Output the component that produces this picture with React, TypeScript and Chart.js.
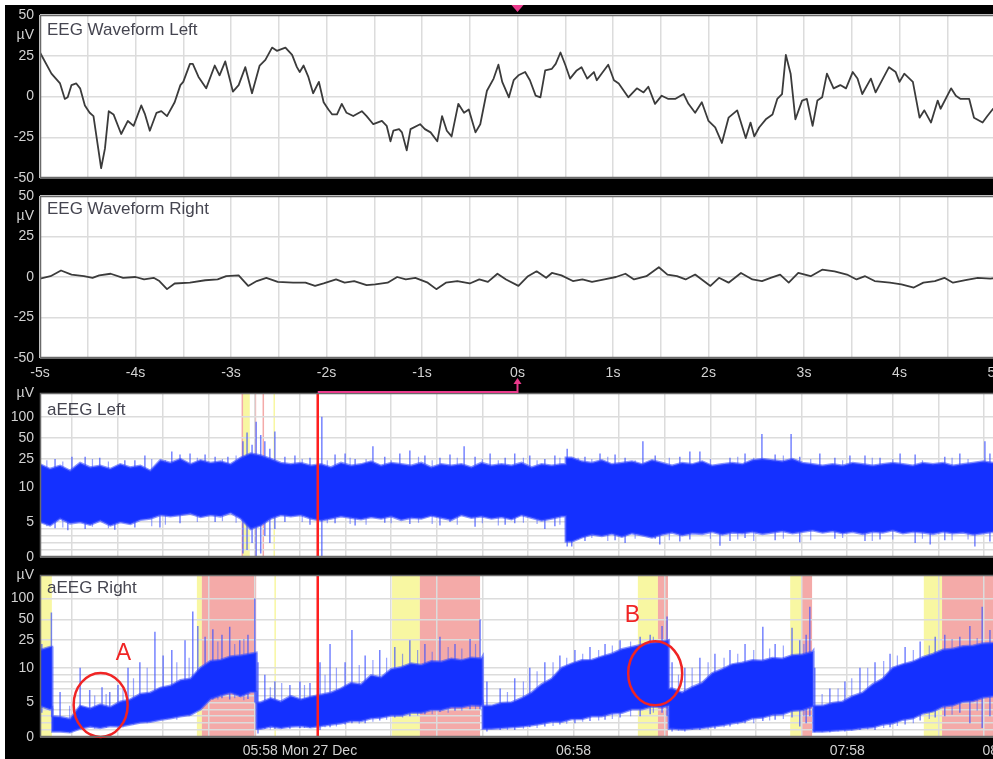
import React, { useEffect, useRef } from 'react';
import { Chart, registerables } from 'chart.js';

Chart.register(...registerables);

// ---------------- EEG waveform panels (time in s, amplitude in µV) ----------------
const eegLeftTimes = [
  -5.0, -4.88, -4.79, -4.74, -4.71, -4.67, -4.62, -4.58, -4.53, -4.48,
  -4.44, -4.39, -4.36, -4.32, -4.28, -4.23, -4.15, -4.08, -4.02, -3.94,
  -3.9, -3.85, -3.78, -3.73, -3.67, -3.59, -3.53, -3.5, -3.43, -3.4,
  -3.34, -3.26, -3.17, -3.12, -3.06, -2.98, -2.92, -2.85, -2.78, -2.7,
  -2.64, -2.57, -2.52, -2.43, -2.36, -2.31, -2.28, -2.24, -2.19, -2.14,
  -2.08, -2.03, -1.98, -1.94, -1.89, -1.84, -1.79, -1.72, -1.63, -1.58,
  -1.51, -1.42, -1.37, -1.33, -1.3, -1.24, -1.21, -1.16, -1.12, -1.02,
  -0.97, -0.91, -0.84, -0.79, -0.74, -0.69, -0.62, -0.56, -0.51, -0.44,
  -0.39, -0.32, -0.25, -0.2, -0.16, -0.09, -0.04, 0.01,
  0.08, 0.13, 0.19, 0.24, 0.29, 0.36, 0.4, 0.45, 0.5, 0.55,
  0.62, 0.67, 0.73, 0.8, 0.83, 0.88, 0.95, 1.01, 1.06, 1.16,
  1.25, 1.32, 1.37, 1.44, 1.51, 1.58, 1.65, 1.74, 1.79, 1.86,
  1.93, 2.0, 2.07, 2.14, 2.21, 2.3, 2.39, 2.44, 2.48, 2.53,
  2.6, 2.67, 2.72, 2.77, 2.81, 2.86, 2.91, 2.98, 3.03, 3.09,
  3.14, 3.19, 3.24, 3.31, 3.38, 3.44, 3.51, 3.56, 3.61, 3.7,
  3.75, 3.89, 3.96, 4.0, 4.05, 4.14, 4.21, 4.26, 4.33, 4.4,
  4.43, 4.54, 4.59, 4.64, 4.73, 4.78, 4.87, 4.92, 4.98, 5.1,
];
const eegLeftValues = [
  27, 14, 8, -1.5, -0.5, 7, 8, 5, -5.5, -10,
  -12, -32, -44, -32, -9, -11, -23, -15, -18, -5.5,
  -11, -21, -10, -9, -12, -3.5, 7, 9, 20, 20,
  12, 5, 19, 13, 21.5, 3, 7, 18, 2, 19,
  22.5, 30, 28, 30, 25.5, 18, 15, 19, 12, 2,
  9, -3.5, -8, -11, -11, -4.5, -10, -12, -9, -12,
  -17, -15, -18, -27.5, -21, -20, -22, -33, -20, -17,
  -20, -22, -27.5, -12, -21, -24.5, -4.5, -10, -8, -22,
  -17, 3.5, 11, 19.5, 9, -0.5, 10, 13,
  15, 10, 0.5, -0.5, 16, 17, 20, 27, 19.5, 11,
  16, 18, 11, 15, 10, 14, 19.5, 10, 8, -0.5,
  5, 2.5, 6, -4.5, 0.5, -1.5, -1.5, 1.5, -4.5, -10,
  -3.5, -15, -19, -28.5, -13, -8.5, -25.5, -16, -24.5, -19,
  -14, -11, -1.5, 1.5, 25.5, 14, -14, -2.5, -1.5, -18,
  -2.5, -0.5, 14, 5, 7, 5, 15, 11, 1.5, 11,
  2.5, 18, 15, 9, 14, 9, -13, -8.5, -16, -2.5,
  -7.5, 5, 0.5, -1.5, -1.5, -13, -16, -12, -7.5, -5,
];
const eegRightTimes = [
  -5.0, -4.89, -4.78, -4.67, -4.54, -4.45, -4.38, -4.26, -4.13, -4.0,
  -3.91, -3.81, -3.75, -3.67, -3.59, -3.43, -3.27, -3.14, -3.05, -2.92,
  -2.82, -2.73, -2.63, -2.51, -2.35, -2.22, -2.12, -2.03, -1.9, -1.81,
  -1.71, -1.58, -1.49, -1.36, -1.26, -1.17, -1.07, -0.94, -0.85, -0.75,
  -0.63, -0.5, -0.4, -0.31, -0.21, -0.12, 0.01, 0.11, 0.2, 0.3,
  0.36, 0.46, 0.58, 0.68, 0.78, 0.91, 1.03, 1.13, 1.22, 1.35,
  1.48, 1.57, 1.67, 1.76, 1.86, 2.02, 2.11, 2.21, 2.34, 2.46,
  2.56, 2.65, 2.75, 2.84, 2.94, 3.07, 3.19, 3.32, 3.45, 3.55,
  3.64, 3.74, 3.9, 4.02, 4.15, 4.25, 4.37, 4.47, 4.56, 4.69,
  4.82, 4.95, 5.1,
];
const eegRightValues = [
  -1, 0.5, 4, 1.5, 0.5, -0.5, 1, 2, -0.5, 0,
  -1.5, -0.5, -2.5, -7.5, -4, -3.5, -2, -1.5, 0.5, 1,
  -5.5, -2.5, -0.5, -3, -3.5, -3.5, -5.5, -4, -1.5, -3.5,
  -2.5, -5, -4.5, -3.5, 0, -1.5, -0.5, -3.5, -7.5, -3.5,
  -2.5, -4, -1.5, -3, 2, -1.5, -5.5, 0.5, 3.5, -0.5,
  2.5, 1, -2.5, -1.5, -3, -1.5, 0, 2, -1.5, 0.5,
  6, 1.5, 0.5, -1.5, 1.5, -5.5, -0.5, -3.5, 2.5, -1.5,
  -2.5, -0.5, 1.5, -3.5, 2.5, 0.5, 4.5, 3.5, 1.5, -1.5,
  0.5, -2.5, -3.5, -4.5, -6.5, -3.5, -2.5, -0.5, -3.5, -2,
  -0.5, -1, 0,
];
const eegYTicks = [-50, -25, 0, 25, 50];
const eegUnitAt = 37.5;
const eegXTicks = [-5, -4.5, -4, -3.5, -3, -2.5, -2, -1.5, -1, -0.5, 0, 0.5, 1, 1.5, 2, 2.5, 3, 3.5, 4, 4.5, 5];
const eegXMin = -5;
const eegXMax = 5.157;

// ---------------- aEEG panels (time in minutes after 05:58, amplitude in µV) ----------------
const aeegStart = -57;
const aeegStep = 2.2;
const aeegXMin = -57;
const aeegXMax = 155.7;

const aeegLeftUpper = [
  21, 18, 20, 17, 22, 19, 20, 18, 21, 19,
  20, 17, 24, 22, 25, 21, 24, 22, 23, 21,
  26, 30, 28, 25, 22, 21, 22, 20, 21, 19,
  22, 20, 21, 23, 20, 22, 21, 20, 22, 19,
  21, 20, 21, 19, 22, 20, 21, 20, 22, 19,
  21, 20, 21, 26, 23, 22, 24, 21, 22, 23,
  21, 24, 22, 20, 22, 21, 23, 20, 21, 22,
  21, 24, 25, 24, 23, 25, 22, 21, 20, 21,
  20, 22, 21, 20, 21, 22, 21, 20, 22, 21,
  22, 20, 21, 22, 23, 22, 21,
];
const aeegLeftLower = [
  5, 4.5, 5.5, 4.8, 5, 4.6, 5.2, 4.5, 5, 4.7,
  5.3, 5.5, 6, 5.8, 6, 6.2, 5.7, 6, 5.8, 6.3,
  5.5, 4, 4.5, 5.5, 6, 5.8, 6, 5.5, 5.2, 5.5,
  5.8, 5.6, 5.4, 5.7, 5.5, 5.8, 5.3, 5.6, 5.5, 5.9,
  5.6, 5.3, 6, 5.6, 5.8, 5.5, 5.7, 5.4, 6, 5.6,
  5.2, 5.5, 5.8, 2.2, 2.8, 3.2, 3, 3.3, 2.9, 3.4,
  3.1, 2.8, 3.2, 3.5, 3.1, 3.4, 3.3, 3.6, 3.2, 3.5,
  3.4, 3.6, 3.3, 3.5, 3.7, 3.4, 3.6, 3.8, 3.5, 3.7,
  3.4, 3.6, 3.3, 3.6, 3.5, 3.8, 3.4, 3.6, 3.5, 3.3,
  3.6, 3.4, 3.5, 3.2, 3.4, 3.6, 3.5,
];
const aeegRightUpper = [
  18, 20, 2.9, 2.6, 4.5, 4.1, 4.7, 4.3, 5.1, 5.4,
  6.2, 6.4, 7.1, 7.4, 8.2, 8.4, 10, 12.5, 13, 14.5,
  15, 16, 5, 5.6, 5.1, 5.9, 5.4, 5.8, 6.1, 6.4,
  7, 7.8, 7.6, 8.9, 8.6, 9.8, 10.2, 11.5, 11, 12.4,
  12.2, 13.5, 12.8, 14, 13.6, 4.5, 4.9, 5, 5.6, 6.4,
  7.6, 8.4, 10, 11.5, 12.8, 13, 14.5, 16, 18.5, 20,
  21.5, 23, 24, 7, 6.4, 7.2, 7.8, 9.2, 9.8, 11.2,
  11.8, 12.8, 12.6, 13.8, 13.5, 15.2, 15.6, 17, 4.5, 4.9,
  5.1, 5.9, 6.4, 7.6, 8.4, 10, 11.2, 12.2, 14.2, 15.8,
  18.2, 18.8, 20.5, 20.8, 22.5, 22.8, 23,
];
const aeegRightLower = [
  4.5, 4, 0.8, 0.7, 1.2, 1.5, 1.3, 1.6, 1.5, 1.8,
  2.1, 2.2, 2.5, 2.7, 3, 3.2, 4, 5.5, 6, 6.4,
  5.9, 6.5, 1.2, 1.5, 1.3, 1.5, 1.6, 1.4, 1.6, 1.8,
  2, 2.3, 2.3, 2.7, 2.8, 3.1, 3.1, 3.5, 3.5, 3.9,
  3.9, 4.3, 4.3, 4.6, 4.5, 1.2, 1.3, 1.4, 1.5, 1.7,
  1.9, 2.2, 2.2, 2.6, 2.6, 3, 3, 3.4, 3.5, 4,
  4, 4.4, 4.3, 1.2, 1.1, 1.2, 1.3, 1.5, 1.7, 2,
  2.2, 2.7, 2.8, 3.2, 3.3, 3.8, 3.9, 4.4, 0.8, 0.9,
  1, 1.1, 1.3, 1.4, 1.8, 2, 2.5, 2.7, 3.4, 3.7,
  4.4, 4.6, 5.1, 5.2, 5.7, 5.9, 6.1,
];

// abrupt level changes of the band (minutes, µV before / after)
const leftBreakTimes = [58.3];
const leftBreakUpperBefore = [21];
const leftBreakLowerBefore = [5.8];
const leftBreakUpperAfter = [26];
const leftBreakLowerAfter = [2.2];
const rightBreakTimes = [-54.3, -9.5, 40.1, 80.9, 112.6];
const rightBreakUpperBefore = [20, 16.5, 14.5, 25, 17.5];
const rightBreakLowerBefore = [4.2, 6.5, 4.8, 4.5, 4.4];
const rightBreakUpperAfter = [3, 5, 4.5, 7, 4.5];
const rightBreakLowerAfter = [0.8, 1.2, 1.2, 1.2, 0.8];

// large single excursions (minutes, low µV, high µV)
const leftSpikeTimes = [
  -53.7, -50.9, -50.0, -47.1, -43.9, -40.6, -38.4, -36.2, -34.0, -30.7,
  -28.1, -26.3, -24.1, -20.8, -18.6, -15.8, -12.5, -11.6, -10.5, -9.6,
  -8.6, -7.7, -6.6, -5.5, -3.3, -1.1, 2.2, 4.8, 7.7, 9.9,
  12.1, 16.0, 18.6, 21.9, 24.1, 27.4, 30.7, 32.9, 36.0, 38.4,
  41.7, 45.0, 47.1, 50.4, 53.7, 55.9, 58.6, 59.6, 62.5, 65.8,
  69.1, 71.3, 75.2, 77.9, 78.9, 83.3, 85.5, 87.7, 92.1, 94.3,
  97.6, 101.3, 104.2, 107.7, 109.6, 114.0, 117.3, 120.6, 123.9, 127.2,
  131.6, 134.9, 138.2, 141.4, 144.7, 148.0, 150.2, 151.3,
];
const leftSpikeLow = [
  4.1, 3.8, 10, 4.0, 10, 3.9, 10, 4.2, 10, 4.2,
  10, 4.8, 10, 10, 5.0, 10, 0.5, 1, 2, 0,
  0.5, 3, 2, 4, 5.0, 10, 4.6, 0, 4.8, 10,
  4.5, 10, 4.9, 10, 4.7, 10, 4.5, 5.0, 10, 4.3,
  10, 4.6, 4.8, 10, 4.0, 4.4, 1.5, 1.5, 2.3, 10,
  2.4, 2.0, 10, 2.6, 1.8, 2.2, 2.5, 10, 1.6, 2.3,
  2.7, 10, 2.4, 10, 2.1, 10, 2.6, 10, 2.3, 2.5,
  10, 2.0, 1.8, 2.4, 10, 1.5, 10, 2.2,
];
const leftSpikeHigh = [
  25, 10, 27, 27, 26, 10, 24, 24, 28, 10,
  32, 29, 30, 29, 27, 27, 45, 60, 40, 85,
  55, 45, 35, 62, 27, 28, 26, 100, 29, 30,
  25, 38, 27, 30, 33, 28, 26, 29, 38, 27,
  30, 26, 30, 28, 25, 28, 35, 15, 27, 30,
  29, 26, 45, 28, 10, 27, 32, 32, 10, 26,
  30, 57, 29, 57, 27, 30, 26, 28, 28, 26,
  30, 29, 10, 27, 30, 10, 45, 30,
];
const rightSpikeTimes = [
  -56.6, -54.5, -52.6, -48.2, -46.1, -43.4, -41.7, -39.9, -37.7, -35.1,
  -31.8, -30.0, -28.1, -25.2, -23.5, -22.4, -20.8, -19.1, -17.1, -15.4,
  -13.2, -11.4, -9.9, -9.2, -7.7, -5.5, -2.2, 0, 2.2, 4.4,
  6.6, 9.9, 11.4, 14.3, 17.5, 20.8, 24.1, 27.4, 30.7, 34.0,
  37.3, 39.5, 41.0, 43.9, 47.1, 50.4, 53.7, 57.0, 60.3, 63.6,
  66.9, 70.2, 74.6, 76.8, 79.4, 80.5, 81.6, 84.4, 87.7, 91.0,
  94.3, 97.6, 101.5, 104.2, 107.9, 109.6, 111.0, 111.8, 112.9, 116.2,
  119.5, 122.8, 126.1, 129.4, 132.7, 136.0, 139.3, 141.4, 144.7, 146.9,
  149.6, 151.3,
];
const rightSpikeLow = [
  3.5, 4, 1, 2, 2, 2, 2, 2, 3, 3,
  3, 3, 4, 4, 4, 4, 5.5, 5.4, 5.6, 5.4,
  5.8, 5.5, 5, 0.5, 1.2, 1.2, 1.2, 1.3, 1.3, 1,
  1.4, 1.8, 2, 2, 2.4, 2.8, 3, 3.3, 3.6, 3.8,
  4, 4, 0.8, 1, 1, 1.4, 1.5, 1.8, 2, 2.3,
  2.5, 2.8, 3, 3.3, 3.5, 3, 0.8, 0.8, 1, 1.2,
  1.5, 2, 2.3, 2.5, 2.8, 1.5, 2, 3, 0.7, 0.7,
  0.8, 1, 1, 1.4, 1.8, 2.4, 2.8, 3, 3.5, 2,
  1.3, 3,
];
const rightSpikeHigh = [
  22, 63, 6.5, 10, 6.8, 7.2, 6.5, 7.5, 10, 12,
  33, 15, 18, 25, 65, 40, 28, 36, 30, 39,
  25, 30, 100, 12, 9, 8, 7.5, 8, 7.8, 12,
  22, 12, 35, 15, 18, 20, 25, 22, 28, 22,
  26, 50, 8, 7, 8.5, 10, 12, 15, 18, 20,
  22, 25, 28, 30, 40, 55, 12, 10, 14, 16,
  18, 22, 39, 22, 38, 25, 30, 76, 10, 7,
  8, 10, 12, 16, 20, 24, 28, 30, 28, 40,
  76, 35,
];

// small fringe excursions along the band edges (minutes, low µV, high µV)
const leftFringeTimes = [
  -55.5, -52.0, -45.5, -42.0, -32.5, -29.5, -22.5, -17.0, -14.0, 0.5,
  6.0, 11.0, 14.5, 20.0, 26.0, 29.0, 34.5, 40.0, 43.5, 49.0,
  52.0, 57.0, 61.0, 64.0, 67.5, 73.5, 81.0, 90.0, 96.0, 99.5,
  106.0, 112.0, 119.0, 125.5, 130.0, 136.5, 143.0, 146.5,
];
const leftFringeLow = [
  4.4, 4.2, 4.3, 4.1, 4.4, 4.6, 5.0, 5.1, 4.9, 5.0,
  4.8, 4.7, 4.6, 4.8, 4.9, 4.7, 4.6, 4.8, 4.5, 4.9,
  4.7, 4.6, 2.5, 2.7, 2.3, 2.6, 2.4, 2.6, 2.5, 2.3,
  2.6, 2.4, 2.7, 2.3, 2.5, 2.6, 2.4, 2.5,
];
const leftFringeHigh = [
  24, 23, 25, 23, 25, 24, 26, 25, 28, 25,
  24, 26, 25, 24, 27, 24, 26, 25, 24, 26,
  24, 26, 26, 25, 27, 24, 26, 25, 27, 26,
  28, 25, 24, 26, 25, 24, 26, 25,
];
const rightFringeTimes = [
  -50.5, -45.0, -42.5, -38.8, -36.5, -33.5, -27.0, -24.3, -18.0, -14.3,
  -12.3, -6.5, -4.0, 1.0, 5.5, 8.0, 13.0, 16.0, 19.0, 22.5,
  25.8, 29.0, 32.5, 35.5, 38.5, 45.5, 49.0, 52.0, 55.5, 58.5,
  62.0, 65.5, 68.5, 72.5, 77.5, 83.0, 86.0, 89.5, 93.0, 96.0,
  99.5, 103.0, 106.0, 110.5, 114.5, 118.0, 121.0, 124.5, 128.0, 131.0,
  134.5, 138.0, 143.0, 148.5, 153.0,
];
const rightFringeLow = [
  0.6, 1.2, 1.3, 1.4, 1.8, 2.0, 2.5, 3.0, 5.4, 5.6,
  5.3, 1.1, 1.2, 1.3, 1.4, 1.5, 1.9, 2.2, 2.5, 2.8,
  3.1, 3.3, 3.5, 3.8, 4.0, 1.0, 1.2, 1.3, 1.6, 1.9,
  2.2, 2.4, 2.6, 3.0, 3.5, 0.9, 1.0, 1.1, 1.4, 1.8,
  2.0, 2.4, 2.6, 3.0, 0.7, 0.8, 0.9, 1.1, 1.3, 1.6,
  2.0, 2.6, 3.2, 3.8, 4.0,
];
const rightFringeHigh = [
  4.5, 6.0, 6.2, 7.0, 8.5, 10, 12, 14, 24, 22,
  26, 7.2, 7.8, 7.5, 9, 10, 11, 13, 14, 16,
  18, 17, 20, 19, 22, 6.5, 8, 9.5, 12, 14,
  16, 18, 21, 24, 28, 9, 10, 12, 14, 16,
  18, 19, 21, 22, 6.2, 7, 8.5, 10, 12.5, 15,
  18, 21, 26, 27, 29,
];

// event shading (minutes from / to)
const leftYellowSpans = [[-12.5, -11.0], [-5.8, -5.5]];
const leftPinkSpans = [[-12.8, -12.5], [-10.0, -9.6], [-8.2, -7.9]];
const rightYellowSpans = [[-57.0, -54.4], [-22.6, -21.5], [-5.6, -5.3], [20.2, 26.3], [74.1, 78.5], [107.5, 110.1], [136.8, 140.8]];
const rightPinkSpans = [[-21.5, -9.6], [26.3, 39.5], [78.5, 80.7], [110.1, 112.3], [140.8, 156.0]];

const cursorMinutes = 3.9;

const aeegLabelledValues = [0, 5, 10, 25, 50, 100];
const aeegGridValues = [1, 2, 3, 4, 6, 7, 8, 9];
const aeegMaxT = 2.34;
const aeegGridMinutes = [-50, -40, -30, -20, -10, 0, 10, 20, 30, 40, 50, 60, 70, 80, 90, 100, 110, 120, 130, 140, 150];
const aeegTimeTicks = [0, 60, 120, 153.5];
const aeegTimeLabels = ['05:58 Mon 27 Dec', '06:58', '07:58', '08:31'];

// annotations in aEEG Right
const annotLabels = ['A', 'B'];
const annotCircleTimes = [-43.7, 77.9];
const annotCircleValues = [4.64, 9.2];
const annotTextTimes = [-38.7, 72.9];
const annotTextValues = [15.9, 55.7];

// ---------------- styling ----------------
const FONT = "Arial, 'Liberation Sans', Helvetica, sans-serif";
const TICK = '#d2d2d2';
const GRID = '#dcdcdc';
const BAND = '#1430ff';
const BAND_EDGE = 'rgba(55,75,255,0.6)';
const SPIKE = 'rgba(60,80,255,0.7)';
const FRINGE = 'rgba(70,90,255,0.55)';
const YELLOW = '#f8f7a2';
const PINK = '#f4aaa8';
const MAGENTA = '#ea3a8c';

// semi-log aEEG transform: linear 0-10 µV, log 10-100+ µV
const tf = (v: number) => (v <= 10 ? v / 10 : 1 + Math.log10(v / 10));

function panelPlugin(title: string, titleDy: number, shades: any[] | null, opts: any) {
  return {
    id: 'panel',
    beforeDraw(c: any) {
      const { ctx, chartArea: a } = c;
      ctx.save();
      ctx.fillStyle = '#fff';
      ctx.fillRect(a.left, a.top, a.right - a.left, a.bottom - a.top);
      if (shades) {
        const xs = c.scales.x;
        shades.forEach((s: any) => {
          s.spans.forEach((sp: number[]) => {
            const x1 = Math.max(a.left, xs.getPixelForValue(sp[0]));
            const x2 = Math.min(a.right, xs.getPixelForValue(sp[1]));
            ctx.fillStyle = s.color;
            ctx.fillRect(x1, a.top, Math.max(1.5, x2 - x1), a.bottom - a.top);
          });
        });
      }
      ctx.restore();
    },
    afterDatasetsDraw(c: any) {
      if (opts.afterData) opts.afterData(c);
    },
    afterDraw(c: any) {
      const { ctx, chartArea: a } = c;
      ctx.save();
      ctx.strokeStyle = '#6a6a6a';
      ctx.lineWidth = 1.5;
      ctx.strokeRect(a.left + 0.5, a.top + 0.5, a.right - a.left - 1, a.bottom - a.top - 1);
      ctx.fillStyle = '#454550';
      ctx.font = `17px ${FONT}`;
      ctx.textAlign = 'left';
      ctx.textBaseline = 'alphabetic';
      ctx.fillText(title, a.left + 7, a.top + titleDy);
      ctx.restore();
      if (opts.afterAll) opts.afterAll(c);
    },
  };
}

function eegChart(canvas: HTMLCanvasElement, times: number[], values: number[], title: string, titleDy: number,
  showX: boolean, padTop: number, padBottom: number, xHeight: number, opts: any) {
  return new Chart(canvas, {
    type: 'line',
    data: {
      datasets: [{
        data: times.map((t, i) => ({ x: t, y: values[i] })),
        borderColor: '#3b3b3b', borderWidth: 1.8, pointRadius: 0, tension: 0, fill: false,
        borderJoinStyle: 'round',
      }],
    },
    options: {
      animation: false, responsive: false, devicePixelRatio: 1, events: [],
      layout: { padding: { top: padTop, bottom: padBottom, left: 0, right: 0 } },
      plugins: { legend: { display: false }, tooltip: { enabled: false }, title: { display: false } },
      scales: {
        x: {
          type: 'linear', min: eegXMin, max: eegXMax,
          afterBuildTicks: (s: any) => { s.ticks = eegXTicks.map((v) => ({ value: v })); },
          afterFit: (s: any) => { s.height = xHeight; s.paddingLeft = 0; s.paddingRight = 0; },
          grid: { color: GRID, lineWidth: 1.5, drawTicks: false },
          border: { display: false },
          ticks: {
            display: showX, autoSkip: false, maxRotation: 0, minRotation: 0, padding: 7, color: TICK,
            font: { family: FONT, size: 14 },
            callback: (v: any) => (Number.isInteger(v) ? `${v}s` : ''),
          },
        },
        y: {
          type: 'linear', min: -50, max: 50,
          afterBuildTicks: (s: any) => {
            s.ticks = [...eegYTicks, eegUnitAt].sort((p, q) => p - q).map((v) => ({ value: v }));
          },
          afterFit: (s: any) => { s.width = 35; s.paddingTop = 0; s.paddingBottom = 0; },
          grid: {
            color: (ctx: any) => (ctx.tick && ctx.tick.value === eegUnitAt ? 'rgba(0,0,0,0)' : GRID),
            lineWidth: 1.5, drawTicks: false,
          },
          border: { display: false },
          ticks: {
            autoSkip: false, padding: 6, color: TICK, font: { family: FONT, size: 14 },
            callback: (v: any) => (v === eegUnitAt ? 'µV' : String(v)),
          },
        },
      },
    } as any,
    plugins: [panelPlugin(title, titleDy, null, opts)],
  } as any);
}

function bandPoints(upper: number[], lower: number[], bt: number[], ub: number[], lb: number[], ua: number[], la: number[]) {
  const pts = upper.map((u, i) => ({ t: aeegStart + i * aeegStep, u, l: lower[i] }));
  bt.forEach((t, i) => {
    pts.push({ t: t - 0.05, u: ub[i], l: lb[i] });
    pts.push({ t, u: ua[i], l: la[i] });
  });
  pts.sort((p, q) => p.t - q.t);
  return pts;
}

function segments(st: number[], sl: number[], sh: number[]) {
  const out: any[] = [];
  st.forEach((t, i) => {
    out.push({ x: t, y: tf(sl[i]) });
    out.push({ x: t, y: tf(sh[i]) });
    out.push({ x: t, y: null });
  });
  return out;
}

function aeegChart(canvas: HTMLCanvasElement, pts: any[], spikes: any[], fringe: any[], shades: any[],
  title: string, titleDy: number, showX: boolean, padTop: number, padBottom: number, xHeight: number, opts: any) {
  const xTicks = [...aeegGridMinutes, ...aeegTimeTicks.filter((t) => aeegGridMinutes.indexOf(t) < 0)].sort((p, q) => p - q);
  const yTicks = [...aeegLabelledValues, ...aeegGridValues].map(tf).concat([aeegMaxT]).sort((p, q) => p - q);
  return new Chart(canvas, {
    type: 'line',
    data: {
      datasets: [
        { data: pts.map((p) => ({ x: p.t, y: tf(p.l) })), borderColor: BAND_EDGE, borderWidth: 2.5, pointRadius: 0, tension: 0, fill: false },
        { data: pts.map((p) => ({ x: p.t, y: tf(p.u) })), borderColor: BAND_EDGE, backgroundColor: BAND, borderWidth: 2.5, pointRadius: 0, tension: 0, fill: '-1' },
        { data: spikes, borderColor: SPIKE, borderWidth: 1.5, pointRadius: 0, tension: 0, fill: false, spanGaps: false },
        { data: fringe, borderColor: FRINGE, borderWidth: 1.2, pointRadius: 0, tension: 0, fill: false, spanGaps: false },
      ],
    },
    options: {
      animation: false, responsive: false, devicePixelRatio: 1, events: [],
      layout: { padding: { top: padTop, bottom: padBottom, left: 0, right: 0 } },
      plugins: { legend: { display: false }, tooltip: { enabled: false }, title: { display: false } },
      scales: {
        x: {
          type: 'linear', min: aeegXMin, max: aeegXMax,
          afterBuildTicks: (s: any) => { s.ticks = xTicks.map((v) => ({ value: v })); },
          afterFit: (s: any) => { s.height = xHeight; s.paddingLeft = 0; s.paddingRight = 0; },
          grid: {
            color: (ctx: any) => (ctx.tick && aeegGridMinutes.indexOf(ctx.tick.value) < 0 ? 'rgba(0,0,0,0)' : GRID),
            lineWidth: 1.5, drawTicks: false,
          },
          border: { display: false },
          ticks: {
            display: showX, autoSkip: false, maxRotation: 0, minRotation: 0, padding: 6, color: TICK,
            font: { family: FONT, size: 14 },
            callback: (v: any) => {
              const i = aeegTimeTicks.indexOf(v);
              return i >= 0 ? aeegTimeLabels[i] : '';
            },
          },
        },
        y: {
          type: 'linear', min: 0, max: aeegMaxT,
          afterBuildTicks: (s: any) => { s.ticks = yTicks.map((v) => ({ value: v })); },
          afterFit: (s: any) => { s.width = 35; s.paddingTop = 0; s.paddingBottom = 0; },
          grid: {
            color: (ctx: any) => (ctx.tick && Math.abs(ctx.tick.value - aeegMaxT) < 1e-6 ? 'rgba(0,0,0,0)' : GRID),
            lineWidth: 1.5, drawTicks: false,
          },
          border: { display: false },
          ticks: {
            autoSkip: false, padding: 6, color: TICK, font: { family: FONT, size: 14 },
            callback: (v: any) => {
              if (Math.abs(v - aeegMaxT) < 1e-6) return 'µV';
              const i = aeegLabelledValues.findIndex((u) => Math.abs(tf(u) - v) < 1e-6);
              return i >= 0 ? String(aeegLabelledValues[i]) : '';
            },
          },
        },
      },
    } as any,
    plugins: [panelPlugin(title, titleDy, shades, opts)],
  } as any);
}

function drawCursor(c: any) {
  const { ctx, chartArea: a } = c;
  const x = c.scales.x.getPixelForValue(cursorMinutes);
  ctx.save();
  ctx.strokeStyle = '#ff1f1f';
  ctx.lineWidth = 2.5;
  ctx.beginPath();
  ctx.moveTo(x, a.top);
  ctx.lineTo(x, a.bottom);
  ctx.stroke();
  ctx.restore();
}

export default function App() {
  const r1 = useRef<HTMLCanvasElement>(null);
  const r2 = useRef<HTMLCanvasElement>(null);
  const r3 = useRef<HTMLCanvasElement>(null);
  const r4 = useRef<HTMLCanvasElement>(null);

  useEffect(() => {
    const shared = { zeroPx: 0 };

    const c1 = eegChart(r1.current!, eegLeftTimes, eegLeftValues, 'EEG Waveform Left', 20, false, 10, 9, 0, {
      afterAll: (c: any) => {
        const x0 = c.scales.x.getPixelForValue(0);
        const { ctx } = c;
        ctx.save();
        ctx.fillStyle = MAGENTA;
        ctx.beginPath();
        ctx.moveTo(x0 - 6, 0);
        ctx.lineTo(x0 + 6, 0);
        ctx.lineTo(x0, 7);
        ctx.closePath();
        ctx.fill();
        ctx.restore();
      },
    });

    const c2 = eegChart(r2.current!, eegRightTimes, eegRightValues, 'EEG Waveform Right', 18, true, 9, 0, 28, {
      afterAll: (c: any) => {
        const x0 = c.scales.x.getPixelForValue(0);
        const { ctx, chartArea: a } = c;
        const h = c.height;
        ctx.save();
        ctx.strokeStyle = MAGENTA;
        ctx.fillStyle = MAGENTA;
        ctx.lineWidth = 2;
        ctx.beginPath();
        ctx.moveTo(x0, a.bottom + 24);
        ctx.lineTo(x0, h);
        ctx.stroke();
        ctx.beginPath();
        ctx.moveTo(x0, a.bottom + 20);
        ctx.lineTo(x0 - 4, a.bottom + 26);
        ctx.lineTo(x0 + 4, a.bottom + 26);
        ctx.closePath();
        ctx.fill();
        ctx.restore();
      },
    });
    shared.zeroPx = c2.scales.x.getPixelForValue(0);

    const leftPts = bandPoints(aeegLeftUpper, aeegLeftLower, leftBreakTimes, leftBreakUpperBefore, leftBreakLowerBefore, leftBreakUpperAfter, leftBreakLowerAfter);
    const rightPts = bandPoints(aeegRightUpper, aeegRightLower, rightBreakTimes, rightBreakUpperBefore, rightBreakLowerBefore, rightBreakUpperAfter, rightBreakLowerAfter);

    const c3 = aeegChart(r3.current!, leftPts,
      segments(leftSpikeTimes, leftSpikeLow, leftSpikeHigh),
      segments(leftFringeTimes, leftFringeLow, leftFringeHigh),
      [{ spans: leftYellowSpans, color: YELLOW }, { spans: leftPinkSpans, color: PINK }],
      'aEEG Left', 22, false, 7, 10, 0, {
        afterData: drawCursor,
        afterAll: (c: any) => {
          const { ctx, chartArea: a } = c;
          const xc = c.scales.x.getPixelForValue(cursorMinutes);
          const x0 = shared.zeroPx;
          ctx.save();
          ctx.strokeStyle = MAGENTA;
          ctx.lineWidth = 2;
          ctx.beginPath();
          ctx.moveTo(xc, a.top - 1);
          ctx.lineTo(x0, a.top - 1);
          ctx.lineTo(x0, 0);
          ctx.stroke();
          ctx.restore();
        },
      });

    const c4 = aeegChart(r4.current!, rightPts,
      segments(rightSpikeTimes, rightSpikeLow, rightSpikeHigh),
      segments(rightFringeTimes, rightFringeLow, rightFringeHigh),
      [{ spans: rightYellowSpans, color: YELLOW }, { spans: rightPinkSpans, color: PINK }],
      'aEEG Right', 18, true, 8, 0, 22, {
        afterData: (c: any) => {
          drawCursor(c);
          const { ctx } = c;
          const xs = c.scales.x;
          const ys = c.scales.y;
          ctx.save();
          ctx.strokeStyle = '#f02424';
          ctx.fillStyle = '#f02424';
          ctx.lineWidth = 2.5;
          ctx.font = `23px ${FONT}`;
          ctx.textAlign = 'center';
          ctx.textBaseline = 'middle';
          annotLabels.forEach((lab, i) => {
            const cx = xs.getPixelForValue(annotCircleTimes[i]);
            const cy = ys.getPixelForValue(tf(annotCircleValues[i]));
            ctx.beginPath();
            ctx.ellipse(cx, cy, 27, 32, 0, 0, Math.PI * 2);
            ctx.stroke();
            ctx.fillText(lab, xs.getPixelForValue(annotTextTimes[i]), ys.getPixelForValue(tf(annotTextValues[i])));
          });
          ctx.restore();
        },
      });

    return () => {
      c1.destroy();
      c2.destroy();
      c3.destroy();
      c4.destroy();
    };
  }, []);

  const cv = (top: number, h: number): React.CSSProperties => ({ position: 'absolute', left: 0, top, width: 1005, height: h, display: 'block' });

  return (
    <div style={{ position: 'fixed', left: 0, top: 0, width: 993, height: 759, overflow: 'hidden', background: '#fff' }}>
      <div style={{ position: 'absolute', left: 5, top: 5, width: 1005, height: 754, background: '#000' }}>
        <canvas ref={r1} width={1005} height={182} style={cv(0, 182)} />
        <canvas ref={r2} width={1005} height={199} style={cv(182, 199)} />
        <canvas ref={r3} width={1005} height={181} style={cv(381, 181)} />
        <canvas ref={r4} width={1005} height={192} style={cv(562, 192)} />
      </div>
    </div>
  );
}
